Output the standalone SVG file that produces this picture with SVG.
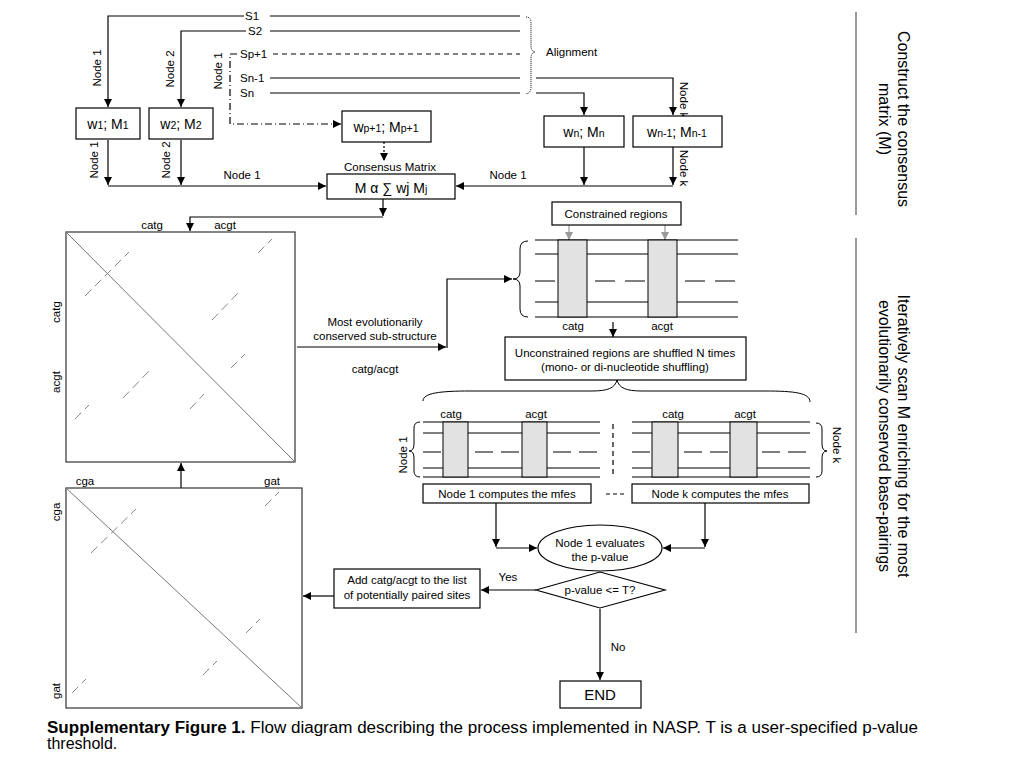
<svg xmlns="http://www.w3.org/2000/svg" width="1024" height="768" viewBox="0 0 1024 768">
<defs>
<marker id="arr" viewBox="0 0 10 10" refX="10" refY="5" markerWidth="9" markerHeight="8" markerUnits="userSpaceOnUse" orient="auto"><path d="M0,0 L10,5 L0,10 z" fill="#000"/></marker>
<marker id="garr" viewBox="0 0 10 10" refX="10" refY="5" markerWidth="9" markerHeight="8" markerUnits="userSpaceOnUse" orient="auto"><path d="M0,0 L10,5 L0,10 z" fill="#999"/></marker>
<style>
text{font-family:"Liberation Sans",Arial,sans-serif;fill:#000}
.s{font-size:11.5px}
.c{text-anchor:middle}
.m{font-size:14px;text-anchor:middle}
.sub{font-size:10.5px}
.big{font-size:16px}
.ln{fill:none;stroke:#000;stroke-width:1.2}
.box{fill:#fff;stroke:#000;stroke-width:1.2}
.reg{fill:#e2e2e2;stroke:#000;stroke-width:1}
.mat{fill:#fff;stroke:#333;stroke-width:1.2}
.diag{stroke:#777;stroke-width:1;fill:none}
.dsh{stroke:#888;stroke-width:1;stroke-dasharray:9,5;fill:none}
.brace{fill:none;stroke:#000;stroke-width:1}
</style>
</defs>
<rect width="1024" height="768" fill="#fff"/>

<g id="connectors">
<path class="ln" d="M244,16 H108 V107" marker-end="url(#arr)"/>
<path class="ln" d="M270,16 H520"/>
<path class="ln" d="M246,31 H181 V107" marker-end="url(#arr)"/>
<path class="ln" d="M270,31 H520"/>
<path class="ln" d="M237,54 H230 V124 H341" stroke-dasharray="7,3,1,3" marker-end="url(#arr)"/>
<path class="ln" d="M273,54 H520" stroke-dasharray="5,4"/>
<path class="ln" d="M270,78 H520"/>
<path class="ln" d="M536,78 H673 V115" marker-end="url(#arr)"/>
<path class="ln" d="M270,93 H520"/>
<path class="ln" d="M536,93 H584 V115" marker-end="url(#arr)"/>
<path d="M526,17 Q531,17 531,23 V46 Q531,51 535,52 Q531,53 531,58 V87 Q531,93 526,94" fill="none" stroke="#000" stroke-width="1" stroke-dasharray="1,1"/>
<path class="ln" d="M108,140 V185" marker-end="url(#arr)"/>
<path class="ln" d="M181,140 V185" marker-end="url(#arr)"/>
<path class="ln" d="M108,186 H326" marker-end="url(#arr)"/>
<path class="ln" d="M584,147 V185" marker-end="url(#arr)"/>
<path class="ln" d="M673,147 V185" marker-end="url(#arr)"/>
<path class="ln" d="M673,186 H456" marker-end="url(#arr)"/>
<path class="ln" d="M384,142 V161" stroke-dasharray="2,2" marker-end="url(#arr)"/>
<path class="ln" d="M383,199 V216" marker-end="url(#arr)"/>
<path class="ln" d="M383,217 H190 V231" marker-end="url(#arr)"/>
<path class="ln" d="M297,347 H446" marker-end="url(#arr)"/>
<path class="ln" d="M447,348 V279 H512" marker-end="url(#arr)"/>
<path class="ln" d="M181,488 V463" marker-end="url(#arr)"/>
<path d="M569,225 V240" fill="none" stroke="#999" stroke-width="1.2" marker-end="url(#garr)"/>
<path d="M665,225 V240" fill="none" stroke="#999" stroke-width="1.2" marker-end="url(#garr)"/>
<path class="ln" d="M613,322 V337" marker-end="url(#arr)"/>
<path class="ln" d="M496,503 V547" marker-end="url(#arr)"/>
<path class="ln" d="M496,548 H537" marker-end="url(#arr)"/>
<path class="ln" d="M705,503 V547" marker-end="url(#arr)"/>
<path class="ln" d="M705,548 H663" marker-end="url(#arr)"/>
<path class="ln" d="M536,590 H481" marker-end="url(#arr)"/>
<path class="ln" d="M334,596 H303" marker-end="url(#arr)"/>
<path class="ln" d="M600,609 V680" marker-end="url(#arr)"/>
<path class="ln" d="M606,494 H627" stroke-dasharray="4,3"/>
<path class="ln" d="M613,424 V478" stroke-dasharray="5,4"/>
</g>

<g id="seq-labels" class="s">
<text x="245" y="20">S1</text>
<text x="248" y="35">S2</text>
<text x="240" y="58">Sp+1</text>
<text x="240" y="82">Sn-1</text>
<text x="240" y="97">Sn</text>
<text x="546" y="56">Alignment</text>
<text class="c" transform="translate(101,68) rotate(-90)">Node 1</text>
<text class="c" transform="translate(174,69) rotate(-90)">Node 2</text>
<text class="c" transform="translate(222,71) rotate(-90)">Node 1</text>
<text class="c" transform="translate(98,160) rotate(-90)">Node 1</text>
<text class="c" transform="translate(170,160) rotate(-90)">Node 2</text>
<text class="c" transform="translate(680,100) rotate(90)">Node k</text>
<text class="c" transform="translate(680,168) rotate(90)">Node k</text>
<text class="c" x="242" y="179">Node 1</text>
<text class="c" x="508" y="179">Node 1</text>
<text class="c" x="390" y="171">Consensus Matrix</text>
</g>

<g id="node-w1"><rect class="box" x="76" y="108" width="64" height="31"/><text class="m" x="108" y="129">w<tspan class="sub">1</tspan>; M<tspan class="sub">1</tspan></text></g>
<g id="node-w2"><rect class="box" x="149" y="108" width="64" height="31"/><text class="m" x="181" y="129">w<tspan class="sub">2</tspan>; M<tspan class="sub">2</tspan></text></g>
<g id="node-wp1"><rect class="box" x="342" y="111" width="89" height="31"/><text class="m" x="386" y="132">w<tspan class="sub">p+1</tspan>; M<tspan class="sub">p+1</tspan></text></g>
<g id="node-wn"><rect class="box" x="544" y="116" width="80" height="31"/><text class="m" x="584" y="137">w<tspan class="sub">n</tspan>; M<tspan class="sub">n</tspan></text></g>
<g id="node-wn1"><rect class="box" x="633" y="116" width="89" height="31"/><text class="m" x="677" y="137">w<tspan class="sub">n-1</tspan>; M<tspan class="sub">n-1</tspan></text></g>
<g id="node-consensus"><rect class="box" x="327" y="174" width="128" height="25"/><text class="m" x="391" y="193">M α ∑ wj M<tspan class="sub">j</tspan></text></g>

<g id="matrix1">
<rect class="mat" x="66" y="232" width="229" height="230"/>
<line class="diag" x1="66" y1="232" x2="295" y2="462"/>
<path class="dsh" d="M85,296 L129,252 M212,320 L238,293 M258,253 L272,239 M231,368 L245,354 M123,398 L149,371 M75,419 L89,405 M190,409 L204,394"/>
<text class="s c" x="152" y="229">catg</text>
<text class="s c" x="225" y="229">acgt</text>
<text class="s c" transform="translate(60,312) rotate(-90)">catg</text>
<text class="s c" transform="translate(60,382) rotate(-90)">acgt</text>
</g>

<g id="matrix2">
<rect class="mat" x="66" y="488" width="236" height="220"/>
<line class="diag" x1="66" y1="488" x2="302" y2="708"/>
<path class="dsh" d="M91,553 L136,509 M265,506 L279,492 M246,633 L260,619 M203,675 L217,661 M72,693 L86,679"/>
<text class="s c" x="85" y="485">cga</text>
<text class="s c" x="272" y="485">gat</text>
<text class="s c" transform="translate(60,512) rotate(-90)">cga</text>
<text class="s c" transform="translate(60,691) rotate(-90)">gat</text>
</g>

<g id="label-substructure" class="s">
<text class="c" x="375" y="326">Most evolutionarily</text>
<text class="c" x="375" y="340">conserved sub-structure</text>
<text class="c" x="375" y="373">catg/acgt</text>
</g>

<g id="node-constrained"><rect class="box" x="552" y="202" width="129" height="23"/><text class="s c" x="616" y="218">Constrained regions</text></g>

<g id="alignment-main">
<path class="brace" d="M528,241 Q520,241 520,249 V272 Q520,279 513,279 Q520,279 520,286 V309 Q520,317 528,317"/>
<path class="ln" d="M535,240 H738 M535,254 H738 M535,302 H738 M535,317 H738"/>
<path class="ln" d="M535,281 H738" stroke-dasharray="20,10"/>
<rect class="reg" x="558" y="240" width="29" height="77"/>
<rect class="reg" x="648" y="240" width="29" height="77"/>
<text class="s c" x="573" y="330">catg</text>
<text class="s c" x="662" y="330">acgt</text>
</g>

<g id="node-unconstrained"><rect class="box" x="505" y="337" width="241" height="43"/>
<text class="s c" x="625" y="357">Unconstrained regions are shuffled N times</text>
<text class="s c" x="625" y="371">(mono- or di-nucleotide shuffling)</text></g>

<path id="big-brace" class="brace" d="M423,401 C423,393 440,391 470,391 L592,391 C608,391 615,388 617,380 C619,388 626,391 642,391 L765,391 C795,391 810,393 810,402"/>

<g id="block-node1">
<path class="brace" d="M420,422 Q414,422 414,428 V444 Q414,451 409,451 Q414,451 414,458 V471 Q414,477 420,477"/>
<path class="ln" d="M423,422 H600 M423,433 H600 M423,468 H600 M423,477 H600"/>
<path class="ln" d="M423,452 H600" stroke-dasharray="18,8"/>
<rect class="reg" x="443" y="422" width="25" height="55"/>
<rect class="reg" x="522" y="422" width="25" height="55"/>
<text class="s c" x="451" y="418">catg</text>
<text class="s c" x="536" y="418">acgt</text>
<text class="s c" transform="translate(407,455) rotate(-90)">Node 1</text>
</g>

<g id="block-nodek">
<path class="brace" d="M816,423 Q822,423 822,429 V444 Q822,451 827,451 Q822,451 822,458 V471 Q822,477 816,477"/>
<path class="ln" d="M632,422 H810 M632,433 H810 M632,468 H810 M632,477 H810"/>
<path class="ln" d="M632,452 H810" stroke-dasharray="18,8"/>
<rect class="reg" x="652" y="422" width="26" height="55"/>
<rect class="reg" x="730" y="422" width="27" height="55"/>
<text class="s c" x="673" y="418">catg</text>
<text class="s c" x="745" y="418">acgt</text>
<text class="s c" transform="translate(833,445) rotate(90)">Node k</text>
</g>

<g id="node-n1mfes"><rect class="box" x="423" y="484" width="168" height="19"/><text class="s c" x="507" y="498">Node 1 computes the mfes</text></g>
<g id="node-nkmfes"><rect class="box" x="632" y="484" width="177" height="19"/><text class="s c" x="720" y="498">Node k computes the mfes</text></g>

<g id="node-evaluate"><ellipse class="box" cx="600" cy="548" rx="62" ry="23"/>
<text class="s c" x="600" y="547">Node 1 evaluates</text>
<text class="s c" x="600" y="561">the p-value</text></g>

<g id="node-decision"><polygon class="box" points="536,590 600,572 665,590 600,608"/>
<text class="s c" x="600" y="594">p-value &lt;= T?</text></g>
<text class="s c" x="508" y="581">Yes</text>
<text class="s c" x="618" y="651">No</text>

<g id="node-add"><rect class="box" x="334" y="569" width="146" height="39"/>
<text class="s c" x="407" y="584">Add catg/acgt to the list</text>
<text class="s c" x="407" y="599">of potentially paired sites</text></g>

<g id="node-end"><rect class="box" x="560" y="681" width="81" height="27"/><text class="c" x="600" y="700" style="font-size:15px">END</text></g>

<g id="side">
<line x1="856" y1="12" x2="856" y2="215" stroke="#555" stroke-width="1.2"/>
<line x1="856" y1="238" x2="856" y2="633" stroke="#555" stroke-width="1.2"/>
<text class="big c" transform="translate(898,119) rotate(90)">Construct the consensus</text>
<text class="big c" transform="translate(879,119) rotate(90)">matrix (M)</text>
<text class="big c" transform="translate(898,436) rotate(90)">Iteratively scan M enriching for the most</text>
<text class="big c" transform="translate(879,436) rotate(90)">evolutionarily conserved base-pairings</text>
</g>

<g id="caption">
<text class="big" x="47" y="733" textLength="871" lengthAdjust="spacingAndGlyphs"><tspan font-weight="bold">Supplementary Figure 1.</tspan> Flow diagram describing the process implemented in NASP. T is a user-specified p-value</text>
<text class="big" x="47" y="749">threshold.</text>
</g>
</svg>
